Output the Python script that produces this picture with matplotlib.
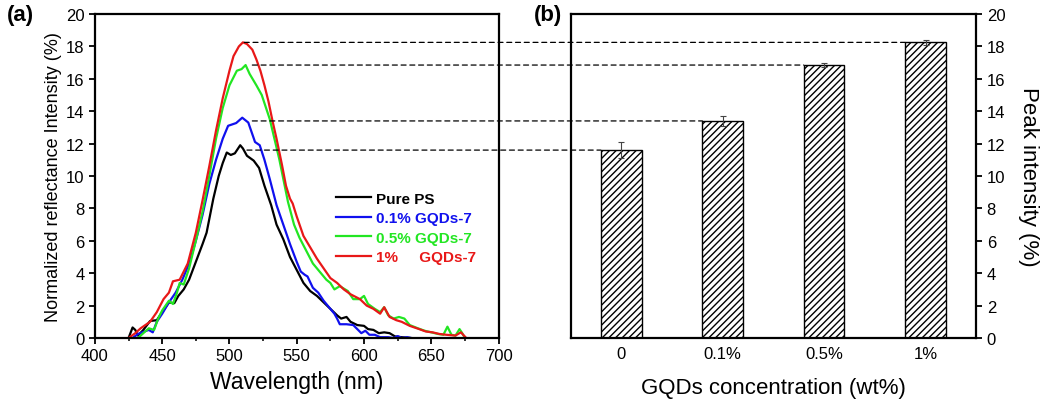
import matplotlib.pyplot as plt
from matplotlib.patches import ConnectionPatch

plt.rcParams['font.family'] = ['Liberation Sans', 'DejaVu Sans']

# spectra
wl_ps = [425, 428, 430, 432, 436, 441, 446, 450, 455, 459, 462, 466, 470, 475, 480, 483, 488, 492, 495, 498,
         501, 504, 508, 510, 513, 518, 522, 526, 531, 535, 540, 545, 550, 555, 560, 565, 570, 575, 580, 583,
         587, 590, 595, 600, 603, 607, 611, 615, 619, 623, 628, 635]
int_ps = [0, 0.65, 0.5, 0.15, 0.5, 1.05, 1.1, 1.6, 2.2, 2.15, 2.6, 3.0, 3.6, 4.7, 5.8, 6.5, 8.6, 10.0, 10.8, 11.45,
          11.3, 11.4, 11.9, 11.7, 11.25, 10.95, 10.5, 9.4, 8.2, 7.0, 6.1, 5.0, 4.2, 3.4, 2.9, 2.6, 2.2, 1.8, 1.4, 1.2,
          1.3, 1.0, 0.8, 0.75, 0.55, 0.5, 0.3, 0.35, 0.3, 0.1, 0.05, 0]

wl_01 = [428, 432, 440, 443, 446, 450, 455, 460, 465, 470, 475, 480, 485, 490, 495, 499, 505, 509.5, 514,
         519, 522.5, 526, 530, 535, 540, 545, 550, 553, 556, 558, 562, 566, 570, 574, 578, 580, 582, 587,
         592, 595, 598, 601, 604, 608, 612, 618, 622, 625, 628, 632, 635]
int_01 = [0, 0.25, 0.5, 0.35, 1.0, 1.5, 2.2, 2.8, 3.6, 4.6, 6.0, 7.6, 9.5, 11.0, 12.3, 13.1, 13.27, 13.6, 13.3,
          12.1, 11.9, 11.0, 9.8, 8.2, 7.0, 5.8, 4.7, 4.1, 3.9, 3.8, 3.1, 2.8, 2.3, 1.9, 1.5, 1.2, 0.85, 0.85,
          0.8, 0.55, 0.3, 0.45, 0.2, 0.2, 0.05, 0.05, 0, 0.12, 0, 0.05, 0]

wl_05 = [432, 436, 440, 444, 447, 450, 455, 458, 461, 463, 466, 470, 475, 480, 485, 490, 495, 500, 505.5,
         509, 512, 515, 520, 524, 530, 537, 543.5, 548, 552, 557, 562, 567, 572, 575, 578, 582, 588, 592,
         597, 600, 603, 608, 612, 615, 618, 622, 626, 630, 634, 640, 645, 650, 655, 659, 662, 665, 668,
         671, 673, 675]
int_05 = [0, 0.3, 0.6, 0.5, 1.2, 1.7, 2.3, 2.1, 2.8, 3.4, 3.3, 4.3, 6.0, 7.8, 10.0, 12.3, 14.2, 15.6, 16.5,
          16.6, 16.85, 16.3, 15.6, 15.0, 13.5, 11.05, 8.4, 7.0, 6.2, 5.4, 4.6, 4.1, 3.6, 3.4, 3.0, 3.2, 2.9, 2.4,
          2.4, 2.6, 2.1, 1.8, 1.6, 1.9, 1.4, 1.2, 1.3, 1.2, 0.8, 0.6, 0.45, 0.35, 0.25, 0.2, 0.7, 0.2, 0.15,
          0.55, 0.3, 0]

wl_1 = [425, 430, 434, 441, 446, 451, 455, 458, 463, 469, 475, 480, 485, 490, 495, 500, 503, 507, 510, 513,
        517, 520, 523, 526, 529, 532, 535, 539, 542, 545, 547, 550, 555, 560, 565, 570, 575, 580, 585, 590,
        597, 602, 607, 612, 615, 619, 624, 628, 634, 641, 646, 651, 656, 661, 668, 672, 676]
int_1 = [0, 0.3, 0.6, 1.0, 1.6, 2.4, 2.8, 3.5, 3.6, 4.6, 6.5, 8.5, 10.6, 12.8, 14.8, 16.5, 17.4, 18.0, 18.25, 18.15,
         17.8, 17.2, 16.5, 15.6, 14.6, 13.4, 12.3, 10.7, 9.4, 8.6, 8.3, 7.5, 6.3, 5.6, 4.9, 4.3, 3.7, 3.4, 3.0, 2.7,
         2.4, 2.0, 1.8, 1.5, 1.9, 1.3, 1.1, 1.0, 0.75, 0.55, 0.4, 0.35, 0.25, 0.2, 0.15, 0.35, 0]

# bar panel
conc = ['0', '0.1%', '0.5%', '1%']
peak = [11.6, 13.4, 16.85, 18.25]
peak_err = [0.5, 0.3, 0.12, 0.15]
# where the guide lines leave the spectra (nm)
guide_start = [513, 517, 517, 511]

fig = plt.figure(figsize=(10.43, 4.06), dpi=100)
ax1 = fig.add_axes([0.091, 0.165, 0.387, 0.798])
ax2 = fig.add_axes([0.547, 0.165, 0.389, 0.798])

ax1.plot(wl_ps, int_ps, color='black', lw=1.6, label='Pure PS')
ax1.plot(wl_01, int_01, color='#1010ee', lw=1.6, label='0.1% GQDs-7')
ax1.plot(wl_05, int_05, color='#22e622', lw=1.6, label='0.5% GQDs-7')
ax1.plot(wl_1, int_1, color='#e81818', lw=1.6, label='1%     GQDs-7')
ax1.set_xlim(400, 700)
ax1.set_ylim(0, 20)
ax1.set_xticks(range(400, 701, 50))
ax1.set_xticks(range(425, 700, 50), minor=True)
ax1.set_yticks(range(0, 21, 2))
ax1.tick_params(labelsize=12, width=1.3, length=4, direction='out')
ax1.tick_params(which='minor', length=2.5, width=1.1)
ax1.set_xlabel('Wavelength (nm)', fontsize=16.5, labelpad=5)
ax1.set_ylabel('Normalized reflectance Intensity (%)', fontsize=13, labelpad=3)
leg = ax1.legend(loc='upper left', bbox_to_anchor=(0.598, 0.452), frameon=False, borderpad=0,
                 borderaxespad=0, handlelength=2.3, handletextpad=0.3, labelspacing=0.36,
                 labelcolor='linecolor', prop={'weight': 'bold', 'size': 11})

xs = list(range(len(conc)))
ax2.bar(xs, peak, width=0.4, color='white', edgecolor='black', hatch='/////', lw=1.0,
        yerr=peak_err, error_kw=dict(ecolor='#444444', elinewidth=0.8, capsize=2.5, capthick=0.8))
ax2.set_xlim(-0.5, 3.5)
ax2.set_ylim(0, 20)
ax2.set_xticks(xs)
ax2.set_xticklabels(conc)
ax2.set_yticks(range(0, 21, 2))
ax2.yaxis.tick_right()
ax2.yaxis.set_label_position('right')
ax2.tick_params(axis='x', length=0, labelsize=12, pad=6)
ax2.tick_params(axis='y', labelsize=12, width=1.3, length=4, direction='out')
ax2.set_xlabel('GQDs concentration (wt%)', fontsize=16, labelpad=11)
ax2.set_ylabel('Peak intensity (%)', fontsize=16, rotation=270, labelpad=24)

for ax in (ax1, ax2):
    for sp in ax.spines.values():
        sp.set_linewidth(1.6)

# dashed guides from each spectrum peak to its bar
for x0, xb, h in zip(guide_start, xs, peak):
    con = ConnectionPatch(xyA=(x0, h), coordsA=ax1.transData, xyB=(xb - 0.2, h), coordsB=ax2.transData,
                          linestyle=(0, (4, 3)), color='black', lw=0.9)
    fig.add_artist(con)

fig.text(0.007, 0.963, '(a)', fontsize=16, fontweight='bold', va='center')
fig.text(0.512, 0.963, '(b)', fontsize=16, fontweight='bold', va='center')

fig.savefig('out.png', dpi=100)
